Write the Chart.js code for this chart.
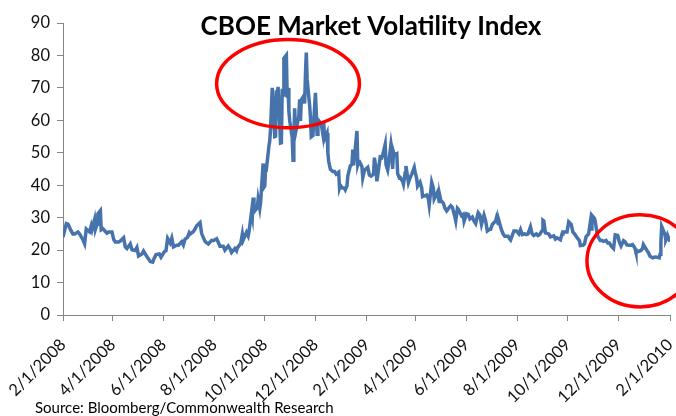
<!DOCTYPE html>
<html>
<head>
<meta charset="utf-8">
<script src="https://cdn.jsdelivr.net/npm/chart.js@4.4.1/dist/chart.umd.min.js"></script>
<style>
  html, body { margin: 0; padding: 0; background: #fff; }
  #wrap { width: 676px; height: 416px; }
</style>
</head>
<body>
<div id="wrap"><canvas id="vixChart" width="676" height="416"></canvas></div>
<script>
const dates = [
  '2/1/2008','2/5/2008','2/7/2008','2/11/2008','2/13/2008','2/15/2008','2/19/2008','2/21/2008','2/25/2008','2/27/2008','2/29/2008',
  '3/4/2008','3/6/2008','3/7/2008','3/10/2008','3/11/2008','3/13/2008','3/14/2008','3/17/2008','3/18/2008','3/20/2008','3/25/2008','3/27/2008','3/31/2008',
  '4/2/2008','4/4/2008','4/8/2008','4/10/2008','4/14/2008','4/16/2008','4/18/2008','4/22/2008','4/24/2008','4/28/2008','4/30/2008',
  '5/2/2008','5/6/2008','5/8/2008','5/12/2008','5/14/2008','5/16/2008','5/19/2008','5/21/2008','5/23/2008','5/27/2008','5/29/2008',
  '6/2/2008','6/4/2008','6/6/2008','6/9/2008','6/11/2008','6/13/2008','6/17/2008','6/19/2008','6/23/2008','6/25/2008','6/27/2008','6/30/2008',
  '7/2/2008','7/3/2008','7/7/2008','7/9/2008','7/11/2008','7/15/2008','7/17/2008','7/21/2008','7/23/2008','7/25/2008','7/29/2008','7/31/2008',
  '8/4/2008','8/6/2008','8/8/2008','8/12/2008','8/14/2008','8/18/2008','8/20/2008','8/22/2008','8/26/2008','8/28/2008','8/29/2008',
  '9/2/2008','9/4/2008','9/5/2008','9/9/2008','9/11/2008','9/12/2008','9/15/2008','9/16/2008','9/17/2008','9/18/2008','9/19/2008','9/22/2008','9/23/2008','9/25/2008','9/26/2008','9/29/2008','9/30/2008',
  '10/1/2008','10/2/2008','10/3/2008','10/6/2008','10/7/2008','10/8/2008','10/9/2008','10/10/2008','10/13/2008','10/14/2008','10/15/2008','10/16/2008','10/17/2008','10/20/2008','10/21/2008','10/22/2008','10/23/2008','10/24/2008','10/27/2008','10/28/2008','10/29/2008','10/30/2008','10/31/2008',
  '11/3/2008','11/4/2008','11/5/2008','11/6/2008','11/7/2008','11/10/2008','11/11/2008','11/12/2008','11/13/2008','11/14/2008','11/17/2008','11/18/2008','11/19/2008','11/20/2008','11/21/2008','11/24/2008','11/25/2008','11/26/2008','11/28/2008',
  '12/1/2008','12/2/2008','12/3/2008','12/4/2008','12/5/2008','12/8/2008','12/10/2008','12/11/2008','12/12/2008','12/15/2008','12/16/2008','12/17/2008','12/19/2008','12/22/2008','12/24/2008','12/26/2008','12/29/2008','12/30/2008','12/31/2008',
  '1/2/2009','1/5/2009','1/6/2009','1/8/2009','1/9/2009','1/12/2009','1/14/2009','1/15/2009','1/16/2009','1/20/2009','1/21/2009','1/22/2009','1/23/2009','1/26/2009','1/27/2009','1/29/2009','1/30/2009',
  '2/2/2009','2/4/2009','2/6/2009','2/9/2009','2/10/2009','2/12/2009','2/13/2009','2/17/2009','2/19/2009','2/20/2009','2/23/2009','2/24/2009','2/26/2009','2/27/2009',
  '3/2/2009','3/3/2009','3/4/2009','3/5/2009','3/6/2009','3/9/2009','3/10/2009','3/12/2009','3/13/2009','3/16/2009','3/17/2009','3/19/2009','3/20/2009','3/23/2009','3/25/2009','3/27/2009','3/30/2009','3/31/2009',
  '4/2/2009','4/3/2009','4/6/2009','4/8/2009','4/9/2009','4/14/2009','4/16/2009','4/17/2009','4/20/2009','4/22/2009','4/23/2009','4/27/2009','4/29/2009','4/30/2009',
  '5/1/2009','5/4/2009','5/6/2009','5/8/2009','5/11/2009','5/13/2009','5/15/2009','5/18/2009','5/19/2009','5/21/2009','5/22/2009','5/26/2009','5/28/2009','5/29/2009',
  '6/1/2009','6/3/2009','6/5/2009','6/8/2009','6/10/2009','6/12/2009','6/15/2009','6/17/2009','6/19/2009','6/22/2009','6/24/2009','6/26/2009','6/29/2009','6/30/2009',
  '7/2/2009','7/6/2009','7/7/2009','7/9/2009','7/10/2009','7/13/2009','7/15/2009','7/17/2009','7/21/2009','7/23/2009','7/24/2009','7/28/2009','7/30/2009','7/31/2009',
  '8/3/2009','8/5/2009','8/7/2009','8/10/2009','8/12/2009','8/14/2009','8/17/2009','8/19/2009','8/21/2009','8/24/2009','8/26/2009','8/28/2009','8/31/2009',
  '9/1/2009','9/2/2009','9/4/2009','9/8/2009','9/10/2009','9/14/2009','9/16/2009','9/18/2009','9/22/2009','9/24/2009','9/25/2009','9/29/2009','9/30/2009',
  '10/2/2009','10/5/2009','10/7/2009','10/9/2009','10/13/2009','10/15/2009','10/16/2009','10/19/2009','10/21/2009','10/23/2009','10/26/2009','10/28/2009','10/29/2009','10/30/2009',
  '11/2/2009','11/3/2009','11/5/2009','11/6/2009','11/9/2009','11/11/2009','11/13/2009','11/16/2009','11/18/2009','11/20/2009','11/23/2009','11/25/2009','11/27/2009','11/30/2009',
  '12/2/2009','12/4/2009','12/7/2009','12/9/2009','12/11/2009','12/14/2009','12/16/2009','12/18/2009','12/21/2009','12/22/2009','12/24/2009','12/28/2009','12/30/2009','12/31/2009',
  '1/4/2010','1/6/2010','1/8/2010','1/11/2010','1/13/2010','1/15/2010','1/19/2010','1/20/2010','1/21/2010','1/22/2010','1/25/2010','1/26/2010','1/27/2010','1/28/2010','1/29/2010','2/1/2010'
];

const vix = [
  24.0,28.2,28.0,25.8,25.0,25.0,25.6,25.0,23.2,22.0,26.5,
  25.6,27.5,26.4,29.4,26.4,28.0,31.2,32.2,26.3,26.6,25.2,25.6,25.6,
  23.3,22.5,22.5,22.8,23.8,21.0,20.5,21.9,20.1,19.9,20.8,
  18.2,18.8,19.7,18.0,17.3,16.5,16.3,17.6,18.6,18.8,17.8,
  19.5,19.8,23.6,22.2,23.7,21.0,21.5,21.5,22.6,21.6,23.4,23.9,
  25.3,24.9,25.7,26.5,27.5,28.5,25.1,22.7,22.2,21.9,23.0,22.9,
  23.5,22.4,21.2,21.2,20.0,21.3,20.5,19.3,20.5,19.8,20.7,
  22.0,24.9,23.1,25.5,24.4,25.7,31.7,30.3,36.2,33.1,32.1,33.1,35.7,32.8,34.7,46.7,39.4,
  39.8,45.3,45.1,52.1,53.7,57.5,63.9,70.0,55.0,55.1,69.3,67.6,70.3,53.0,53.1,69.7,67.8,79.1,80.1,67.0,70.0,62.9,59.9,
  54.8,47.7,54.6,63.7,56.1,60.0,61.2,66.5,59.8,66.3,67.6,65.2,74.3,80.9,72.7,64.7,60.9,54.9,55.3,
  68.5,62.6,55.7,58.9,59.9,58.9,55.7,59.2,54.3,56.1,49.8,47.3,44.9,44.2,44.2,43.4,44.0,39.2,40.0,
  39.2,39.1,38.6,39.8,42.8,46.0,46.4,51.0,46.1,56.7,46.4,47.3,47.3,45.7,42.3,44.6,44.8,
  45.5,43.1,42.8,43.4,48.5,45.0,41.2,48.7,48.5,49.3,52.6,46.3,44.7,46.4,
  52.7,50.9,45.0,50.2,49.3,49.7,43.6,42.3,42.4,41.2,40.3,43.8,45.9,40.8,42.3,43.4,45.5,44.1,
  42.0,39.7,40.9,39.1,36.5,37.0,35.8,33.9,40.9,39.1,35.8,37.9,35.0,36.5,
  35.3,34.5,32.9,32.1,33.1,33.7,33.1,30.2,29.0,32.9,32.6,30.6,31.0,28.9,
  31.2,31.0,29.6,30.2,29.0,28.2,31.5,30.8,27.9,30.8,29.0,25.9,26.4,26.4,
  27.9,29.0,30.0,28.2,29.0,26.3,25.0,24.3,24.3,23.4,23.1,25.9,25.9,25.9,
  25.0,26.3,24.8,25.0,24.8,25.0,27.2,25.0,24.5,25.0,24.5,24.8,26.0,
  29.2,29.0,25.3,25.0,24.1,24.4,23.4,23.8,23.2,25.0,25.6,25.6,25.6,
  28.7,27.9,25.6,25.0,23.5,22.9,21.4,21.5,21.9,24.2,25.0,28.5,26.5,30.7,
  29.8,28.8,25.4,24.2,23.0,23.0,22.7,23.0,22.2,22.2,21.0,20.5,24.7,24.5,
  22.5,21.3,22.9,22.5,21.6,21.5,21.5,21.7,20.5,19.4,19.5,19.9,20.5,21.7,
  20.0,19.2,18.1,17.6,17.8,17.9,17.6,18.7,22.3,27.3,25.4,24.6,23.1,23.7,24.6,22.6
];

const tickLabels = ['2/1/2008','4/1/2008','6/1/2008','8/1/2008','10/1/2008','12/1/2008',
  '2/1/2009','4/1/2009','6/1/2009','8/1/2009','10/1/2009','12/1/2009','2/1/2010'];

// red circles drawn on the picture: centre date, centre value, half-width in days, half-height in index points
const circleCentres = ['10/29/2008', '12/27/2009'];
const circleValues = [71.3, 16.7];
const circleDays = [86, 64];
const circlePoints = [13.6, 14.2];

function dayNum(s) {
  const [m, d, y] = s.split('/').map(Number);
  return (Date.UTC(y, m - 1, d) - Date.UTC(2008, 1, 1)) / 86400000;
}

const tickDays = tickLabels.map(dayNum);
const points = dates.map((d, i) => ({ x: dayNum(d), y: vix[i] }));

const overlay = {
  id: 'overlay',
  afterDraw(chart) {
    const c = chart.ctx, xs = chart.scales.x, ys = chart.scales.y;
    c.save();
    c.strokeStyle = '#ff0000';
    c.lineWidth = 3.5;
    circleCentres.forEach((d, i) => {
      const cx = xs.getPixelForValue(dayNum(d));
      const cy = ys.getPixelForValue(circleValues[i]);
      const rx = xs.getPixelForValue(dayNum(d) + circleDays[i]) - cx;
      const ry = cy - ys.getPixelForValue(circleValues[i] + circlePoints[i]);
      c.beginPath();
      c.ellipse(cx, cy, rx, ry, 0, 0, Math.PI * 2);
      c.stroke();
    });
    c.fillStyle = '#000';
    c.textBaseline = 'middle';
    c.textAlign = 'center';
    c.font = 'bold 26px Lato';
    c.fillText('CBOE Market Volatility Index', 371, 27);
    c.textAlign = 'left';
    c.font = '15px Lato';
    c.fillText('Source: Bloomberg/Commonwealth Research', 35, 408);
    c.restore();
  }
};

Chart.defaults.font.family = 'Lato';
Chart.defaults.font.size = 16.5;
Chart.defaults.color = '#111';

new Chart(document.getElementById('vixChart').getContext('2d'), {
  type: 'line',
  data: {
    datasets: [{
      label: 'VIX',
      data: points,
      borderColor: '#4673ab',
      backgroundColor: '#4673ab',
      borderWidth: 3.5,
      pointRadius: 0,
      tension: 0
    }]
  },
  options: {
    responsive: false,
    animation: false,
    layout: { padding: { top: 23, right: 6, bottom: 0, left: 0 } },
    plugins: { legend: { display: false }, tooltip: { enabled: false } },
    scales: {
      x: {
        type: 'linear',
        min: 0,
        max: dayNum('2/1/2010'),
        afterBuildTicks: s => { s.ticks = tickDays.map(v => ({ value: v })); },
        afterFit: s => { s.height = 101; s.paddingLeft = 0; s.paddingRight = 0; },
        ticks: {
          autoSkip: false,
          minRotation: 45,
          maxRotation: 45,
          padding: 14,
          callback: v => tickLabels[tickDays.indexOf(v)]
        },
        grid: { drawOnChartArea: false, tickLength: 6, color: '#868686' },
        border: { color: '#868686' }
      },
      y: {
        min: 0,
        max: 90,
        ticks: { stepSize: 10, padding: 7 },
        afterFit: s => { s.width = 63; s.paddingTop = 0; s.paddingBottom = 0; },
        grid: { drawOnChartArea: false, tickLength: 6, color: '#868686' },
        border: { color: '#868686' }
      }
    }
  },
  plugins: [overlay]
});
</script>
</body>
</html>
